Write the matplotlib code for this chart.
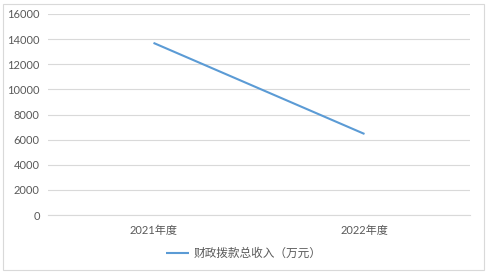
import matplotlib
matplotlib.use("Agg")
import matplotlib.pyplot as plt
from matplotlib.patches import Rectangle

plt.rcParams['font.family'] = ['Lato', 'Noto Sans CJK SC', 'DejaVu Sans']

categories = ['2021年度', '2022年度']
values = [13700, 6450]
series_name = '财政拨款总收入（万元）'
yticks = [0, 2000, 4000, 6000, 8000, 10000, 12000, 14000, 16000]

W, H = 488, 274
fig = plt.figure(figsize=(W / 100, H / 100), dpi=100)
ax = fig.add_axes([48 / W, (H - 215) / H, (470 - 48) / W, (215 - 14) / H])

x = [0, 1]
ax.plot(x, values, color='#5B9BD5', lw=1.5, label=series_name, solid_capstyle='butt')
ax.set_xlim(-0.5, 1.5)
ax.set_ylim(0, 16000)
ax.set_yticks(yticks)
ax.set_xticks(x)
ax.set_xticklabels(categories)
ax.grid(axis='y', color='#D9D9D9', lw=0.8)
ax.set_axisbelow(True)
for s in ax.spines.values():
    s.set_visible(False)
ax.spines['bottom'].set_visible(True)
ax.spines['bottom'].set_color('#D9D9D9')
ax.tick_params(length=0, labelsize=8, colors='#595959')
ax.tick_params(axis='x', pad=7)
ax.tick_params(axis='y', pad=6)

# legend centred on the whole figure, like the spreadsheet original
leg = fig.legend(loc='center', bbox_to_anchor=(0.5, (H - 253) / H),
                 frameon=False, fontsize=8.4, handlelength=2.0, handletextpad=0.4)
for t in leg.get_texts():
    t.set_color('#595959')

fig.patches.append(Rectangle((3 / W, 4 / H), 481 / W, 266 / H, transform=fig.transFigure,
                             fill=False, edgecolor='#D9D9D9', lw=0.8))

fig.savefig('out.png', dpi=100, facecolor='white')
